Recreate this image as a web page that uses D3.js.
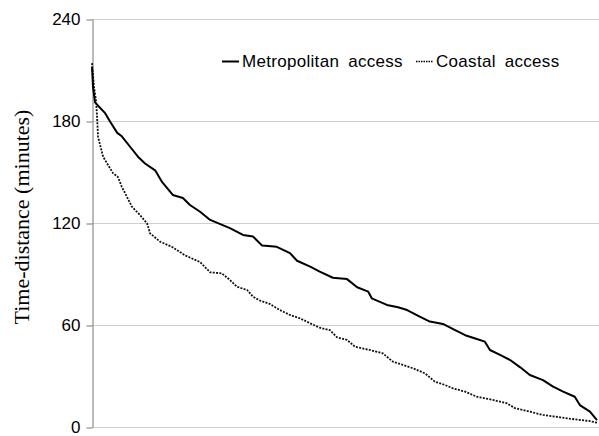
<!DOCTYPE html>
<html>
<head>
<meta charset="utf-8">
<script src="https://cdn.jsdelivr.net/npm/d3@7"></script>
<style>
  body { margin: 0; background: #fff; }
  svg { display: block; }
</style>
</head>
<body>
<div id="chart"></div>
<script>
// rank position along the x axis (percent of areas, sorted) and time-distance in minutes
const metroRank = [0, 0.2, 0.6, 1.2, 2.6, 3.6, 5.0, 5.9, 7.5, 9.1, 10.5, 12.5, 13.9, 16.0, 18.0, 19.4, 21.4, 23.4,
  27.3, 29.9, 31.9, 33.7, 36.6, 39.2, 40.6, 43.2, 45.1, 47.7, 50.5, 52.5, 54.7, 55.4, 58.4, 60.6, 62.4, 64.9,
  66.9, 69.5, 71.9, 73.9, 76.2, 77.8, 78.8, 80.8, 82.8, 84.8, 86.7, 89.3, 91.3, 93.3, 95.6, 96.6, 98.6, 100];
const metroTime = [212, 200, 191, 189, 184.6, 179.6, 173, 171, 165, 159, 155, 151, 144, 136.5, 134.7, 130.6, 126.6, 121.8,
  117, 113, 112, 106.7, 106, 102.3, 97.8, 94.3, 91.4, 87.8, 87, 82.2, 79.6, 75.7, 71.8, 70.4, 68.8, 64.9,
  62, 60.6, 57, 54, 51.8, 50.2, 45.3, 42.4, 39.4, 35.1, 30.6, 27.6, 23.7, 20.8, 17.8, 12.9, 9, 4.1];

const coastRank = [0, 0.4, 0.8, 1.0, 1.2, 1.6, 2.2, 3.2, 4.2, 5.1, 5.9, 6.9, 7.9, 9.5, 10.9, 11.5, 13.5, 15.8, 18.4,
  21.4, 23.4, 25.7, 27.3, 28.7, 30.7, 31.9, 33.3, 35.2, 37.2, 39.2, 41.2, 43.2, 45.1, 47.1, 48.5, 50.5, 52.1,
  55.0, 57.6, 59.6, 61.6, 63.6, 65.9, 67.9, 69.9, 71.5, 73.9, 76.2, 79.4, 82.2, 83.8, 86.7, 89.3, 92.7, 95.6, 98.6, 100];
const coastTime = [214, 200, 192, 182.5, 170.8, 165.9, 159, 154, 149.2, 147.2, 141.3, 135.5, 129.6, 124.7, 119.8, 113.9, 109, 106, 101,
  97, 91, 90.4, 86.5, 82.5, 80.6, 76.6, 74.3, 72.4, 68.8, 65.9, 63.9, 61, 58.4, 57, 52.8, 51.2, 47.2,
  45.3, 43.3, 38.4, 36.5, 34.5, 31.6, 26.7, 24.7, 22.7, 20.8, 17.8, 15.9, 13.9, 11, 9, 7.1, 5.7, 4.5, 3.5, 2.5];

const yTicks = [0, 60, 120, 180, 240];
const seriesNames = ["Metropolitan access", "Coastal access"];

const width = 599, height = 436;
const margin = {top: 19, right: 2, bottom: 9, left: 92};

const svg = d3.select("#chart").append("svg")
  .attr("width", width)
  .attr("height", height);

const x = d3.scaleLinear().domain([0, 100]).range([margin.left, width - margin.right]);
const y = d3.scaleLinear().domain([0, 240]).range([height - margin.bottom, margin.top]);

// gridlines
svg.append("g")
  .selectAll("line")
  .data(yTicks)
  .join("line")
  .attr("x1", margin.left)
  .attr("x2", width)
  .attr("y1", d => y(d) + 0.5)
  .attr("y2", d => y(d) + 0.5)
  .attr("stroke", "#cfcfcf")
  .attr("stroke-width", 1);

// y axis
const yAxis = svg.append("g")
  .attr("transform", `translate(${margin.left + 0.5},0)`)
  .call(d3.axisLeft(y).tickValues(yTicks).tickSize(6).tickPadding(6).tickSizeOuter(0));
yAxis.select(".domain").attr("stroke", "#777");
yAxis.selectAll(".tick line").attr("stroke", "#777").attr("transform", "translate(0,0.5)");
yAxis.selectAll(".tick text")
  .attr("font-family", "Liberation Sans, Arial, sans-serif")
  .attr("font-size", 17)
  .attr("fill", "#000");

svg.append("text")
  .attr("transform", "translate(29,217) rotate(-90)")
  .attr("text-anchor", "middle")
  .attr("font-family", "Liberation Serif, Times New Roman, serif")
  .attr("font-size", 22)
  .text("Time-distance (minutes)");

const line = d3.line()
  .x(d => x(d[0]))
  .y(d => y(d[1]));

svg.append("path")
  .datum(d3.zip(coastRank, coastTime))
  .attr("d", line)
  .attr("fill", "none")
  .attr("stroke", "#111")
  .attr("stroke-width", 1.8)
  .attr("stroke-dasharray", "2,1.3");

svg.append("path")
  .datum(d3.zip(metroRank, metroTime))
  .attr("d", line)
  .attr("fill", "none")
  .attr("stroke", "#000")
  .attr("stroke-width", 2)
  .attr("stroke-linejoin", "round");

// legend
const legend = svg.append("g")
  .attr("font-family", "Liberation Sans, Arial, sans-serif")
  .attr("font-size", 17)
  .attr("letter-spacing", 0.3)
  .attr("word-spacing", 4);
const legendX = [222, 416];
seriesNames.forEach((name, i) => {
  legend.append("line")
    .attr("x1", legendX[i]).attr("x2", legendX[i] + 17)
    .attr("y1", 61.5).attr("y2", 61.5)
    .attr("stroke", "#000")
    .attr("stroke-width", i === 0 ? 2 : 1.5)
    .attr("stroke-dasharray", i === 0 ? null : "1.5,1");
  legend.append("text")
    .attr("x", legendX[i] + 20)
    .attr("y", 67)
    .text(name);
});
</script>
</body>
</html>
